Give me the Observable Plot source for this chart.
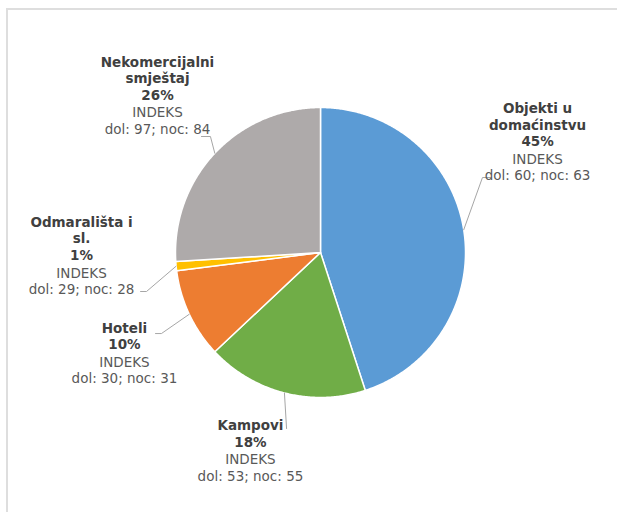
<!DOCTYPE html>
<html>
<head>
<meta charset="utf-8">
<script src="https://cdn.jsdelivr.net/npm/d3@7"></script>
<script src="https://cdn.jsdelivr.net/npm/@observablehq/plot@0.6"></script>
<style>
  html, body { margin: 0; padding: 0; background: #fff; }
  #wrap { position: relative; width: 617px; height: 512px; overflow: hidden; }
  #frame { position: absolute; left: 6px; top: 8px; width: 700px; height: 600px;
           border-top: 2px solid #dedede; border-left: 2px solid #dedede; pointer-events: none; }
</style>
</head>
<body>
<div id="wrap"><div id="frame"></div></div>
<script>
// ---- data ----
const categories = ["Objekti u domaćinstvu", "Kampovi", "Hoteli", "Odmarališta i sl.", "Nekomercijalni smještaj"];
const labelLines = ["Objekti u\ndomaćinstvu", "Kampovi", "Hoteli", "Odmarališta i\nsl.", "Nekomercijalni\nsmještaj"];
const shares = [45, 18, 10, 1, 26];
const dolIndex = [60, 53, 30, 29, 97];
const nocIndex = [63, 55, 31, 28, 84];
const sliceColors = ["#5b9bd5", "#70ad47", "#ed7d31", "#ffc000", "#aeaaaa"];

// ---- label layout (data units, pie radius = 1) ----
const labelAnchor = [[1.497, 0.714], [-0.483, -1.359], [-1.352, -0.686], [-1.648, -0.072], [-1.124, 1.034]];
const leaderElbow = [[[1.117, 0.517], [1.172, 0.517]], [[-0.234, -1.214]], [[-1.097, -0.559], [-1.138, -0.559]], [[-1.2, -0.269], [-1.241, -0.269]], [[-0.759, 0.8], [-0.821, 0.8]]];

// ---- build slices ----
const total = d3.sum(shares);
const slicePts = [];
const mids = [];
let acc = 0;
categories.forEach((c, i) => {
  const a0 = acc / total * 2 * Math.PI;
  acc += shares[i];
  const a1 = acc / total * 2 * Math.PI;
  mids.push((a0 + a1) / 2);
  slicePts.push({name: c, x: 0, y: 0});
  const n = Math.max(2, Math.ceil((a1 - a0) / (Math.PI / 360)));
  for (let k = 0; k <= n; k++) {
    const a = a0 + (a1 - a0) * k / n;
    slicePts.push({name: c, x: Math.sin(a), y: Math.cos(a)});
  }
});

const leaders = [];
categories.forEach((c, i) => {
  const m = mids[i];
  leaders.push({name: c, x: Math.sin(m), y: Math.cos(m)});
  leaderElbow[i].forEach(p => leaders.push({name: c, x: p[0], y: p[1]}));
});

const labels = categories.map((c, i) => ({
  name: c,
  x: labelAnchor[i][0], y: labelAnchor[i][1],
  bold: labelLines[i] + "\n" + shares[i] + "%",
  normal: "INDEKS\ndol: " + dolIndex[i] + "; noc: " + nocIndex[i]
}));

const chart = Plot.plot({
  width: 617, height: 512,
  marginLeft: 175, marginRight: 152, marginTop: 107, marginBottom: 115,
  x: {domain: [-1, 1], axis: null},
  y: {domain: [-1, 1], axis: null},
  color: {domain: categories, range: sliceColors},
  style: {fontFamily: "DejaVu Sans", background: "transparent"},
  marks: [
    Plot.line(slicePts, {x: "x", y: "y", z: "name", fill: "name", stroke: "white", strokeWidth: 1.5, curve: "linear-closed"}),
    Plot.line(leaders, {x: "x", y: "y", z: "name", stroke: "#a6a6a6", strokeWidth: 1}),
    Plot.text(labels, {x: "x", y: "y", text: "bold", lineAnchor: "bottom", lineHeight: 1.22, fontSize: 13.5, fontWeight: "bold", fill: "#404040", dy: -3}),
    Plot.text(labels, {x: "x", y: "y", text: "normal", lineAnchor: "top", lineHeight: 1.22, fontSize: 13.5, fill: "#595959", dy: 3})
  ]
});
document.getElementById("wrap").insertBefore(chart, document.getElementById("frame"));
</script>
</body>
</html>
